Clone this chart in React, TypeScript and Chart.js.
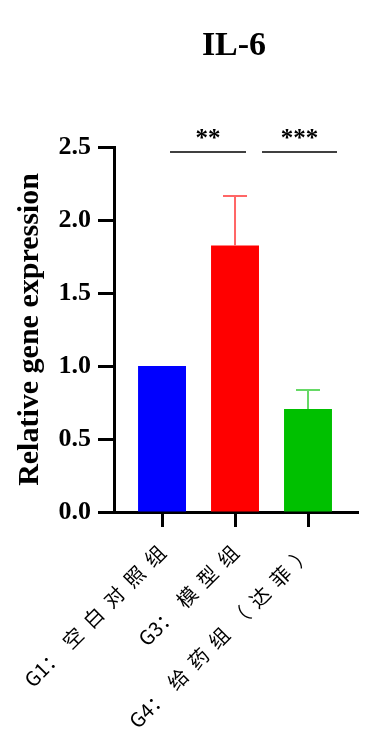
import React, { useEffect, useRef } from 'react';
import { Chart, registerables } from 'chart.js';

Chart.register(...registerables);

// ---- data ----
const categories = ['G1：空白对照组', 'G3：模型组', 'G4：给药组（达菲）'];
const categoryIndex = [0, 1, 2];
const means = [1.0, 1.825, 0.705];
const sds = [0, 0.34, 0.13];
const barColors = ['#0000FF', '#FF0000', '#00C000'];
const errColors = ['#7F7FFF', '#FF6666', '#66D966'];
const sigPairs = [
  [0, 1],
  [1, 2],
];
const sigMarks = ['**', '***'];
const chartTitle = 'IL-6';
const yTitle = 'Relative gene expression';

const SERIF = "'Liberation Serif', 'Times New Roman', serif";
const CJK = "'Noto Sans CJK SC', sans-serif";

const errorBarPlugin = {
  id: 'errorBars',
  afterDatasetsDraw(chart: any) {
    const ctx = chart.ctx;
    const ys = chart.scales.y;
    const meta = chart.getDatasetMeta(0);
    ctx.save();
    ctx.lineWidth = 2;
    means.forEach((m, i) => {
      if (!sds[i]) return;
      const bar = meta.data[i];
      const x = bar.x;
      const yTop = ys.getPixelForValue(m + sds[i]);
      const yMean = ys.getPixelForValue(m);
      ctx.strokeStyle = errColors[i];
      ctx.beginPath();
      ctx.moveTo(x, yMean);
      ctx.lineTo(x, yTop);
      ctx.moveTo(x - 12, yTop);
      ctx.lineTo(x + 12, yTop);
      ctx.stroke();
    });
    ctx.restore();
  },
};

// bracket end offsets (px) relative to the compared bars' centres
const bracketOffsets = [
  [8, 11],
  [27, 29],
];

const sigPlugin = {
  id: 'sigBrackets',
  afterDraw(chart: any) {
    const ctx = chart.ctx;
    const xs = chart.scales.x;
    const top = chart.chartArea.top;
    ctx.save();
    ctx.strokeStyle = '#000';
    ctx.lineWidth = 1.5;
    ctx.fillStyle = '#000';
    ctx.font = `bold 25px ${SERIF}`;
    ctx.textAlign = 'center';
    ctx.textBaseline = 'alphabetic';
    sigPairs.forEach((p, k) => {
      const x1 = xs.getPixelForValue(categoryIndex[p[0]]) + bracketOffsets[k][0];
      const x2 = xs.getPixelForValue(categoryIndex[p[1]]) + bracketOffsets[k][1];
      const y = top + 5;
      ctx.beginPath();
      ctx.moveTo(x1, y);
      ctx.lineTo(x2, y);
      ctx.stroke();
      ctx.fillText(sigMarks[k], (x1 + x2) / 2, y - 6);
    });
    ctx.restore();
  },
};

const titlePlugin = {
  id: 'centredTitle',
  afterDraw(chart: any) {
    const ctx = chart.ctx;
    const ca = chart.chartArea;
    ctx.save();
    ctx.fillStyle = '#000';
    ctx.font = `bold 34px ${SERIF}`;
    ctx.textAlign = 'center';
    ctx.textBaseline = 'alphabetic';
    ctx.fillText(chartTitle, (ca.left + ca.right) / 2 - 2, 55);
    ctx.restore();
  },
};

const isWide = (ch: string) => ch.charCodeAt(0) > 0x2e80;

const xLabelPlugin = {
  id: 'xLabels',
  afterDraw(chart: any) {
    const ctx = chart.ctx;
    const xs = chart.scales.x;
    const gap = 9;
    ctx.save();
    ctx.font = `20px ${CJK}`;
    ctx.fillStyle = '#000';
    ctx.textAlign = 'left';
    ctx.textBaseline = 'middle';
    categories.forEach((lab, i) => {
      const chars = Array.from(lab);
      const adv = chars.map((ch, j) => {
        const w = ctx.measureText(ch).width;
        return w + (j < chars.length - 1 && isWide(ch) ? gap : 0);
      });
      const total = adv.reduce((a, b) => a + b, 0);
      const x = xs.getPixelForValue(categoryIndex[i]);
      const y = xs.top + 37;
      ctx.save();
      ctx.translate(x, y);
      ctx.rotate(-Math.PI / 4);
      let cx = -total;
      chars.forEach((ch, j) => {
        ctx.fillText(ch, cx, 0);
        cx += adv[j];
      });
      ctx.restore();
    });
    ctx.restore();
  },
};

export default function App() {
  const ref = useRef<HTMLCanvasElement | null>(null);

  useEffect(() => {
    if (!ref.current) return;
    Chart.defaults.font.family = SERIF;
    const chart = new Chart(ref.current, {
      type: 'bar',
      data: {
        datasets: [
          {
            data: means.map((m, i) => ({ x: categoryIndex[i], y: m })),
            backgroundColor: barColors,
            borderWidth: 0,
            barPercentage: 0.657,
            categoryPercentage: 1,
          },
        ],
      },
      options: {
        responsive: false,
        animation: false,
        layout: { padding: { left: 0, right: 18, top: 147, bottom: 0 } },
        plugins: {
          legend: { display: false },
          tooltip: { enabled: false },
          title: { display: false },
        },
        scales: {
          x: {
            type: 'linear',
            offset: false,
            min: -0.658,
            max: 2.685,
            afterBuildTicks: (scale: any) => {
              scale.ticks = categoryIndex.map((v) => ({ value: v }));
            },
            afterFit: (scale: any) => {
              scale.height = 239;
            },
            ticks: { display: false },
            grid: {
              display: true,
              offset: false,
              drawOnChartArea: false,
              drawTicks: true,
              tickLength: 15,
              tickWidth: 3,
              tickColor: '#000',
              color: '#000',
            },
            border: { display: true, color: '#000', width: 3 },
          },
          y: {
            type: 'linear',
            min: 0,
            max: 2.5,
            afterFit: (scale: any) => {
              scale.width = 114;
            },
            ticks: {
              stepSize: 0.5,
              color: '#000',
              padding: 7,
              font: { family: SERIF, size: 26, weight: 'bold' },
              callback: (v: any) => Number(v).toFixed(1),
            },
            grid: {
              display: true,
              drawOnChartArea: false,
              drawTicks: true,
              tickLength: 16,
              tickWidth: 3,
              tickColor: '#000',
              color: '#000',
            },
            border: { display: true, color: '#000', width: 3 },
            title: {
              display: true,
              text: yTitle,
              color: '#000',
              font: { family: SERIF, size: 30, weight: 'bold' },
              padding: { top: 12, bottom: 0 },
            },
          },
        },
      },
      plugins: [errorBarPlugin, sigPlugin, titlePlugin, xLabelPlugin],
    } as any);
    return () => chart.destroy();
  }, []);

  return (
    <div style={{ position: 'fixed', left: 0, top: 0, width: 376, height: 751, background: '#fff' }}>
      <canvas ref={ref} width={376} height={751} style={{ display: 'block', width: 376, height: 751 }} />
    </div>
  );
}
